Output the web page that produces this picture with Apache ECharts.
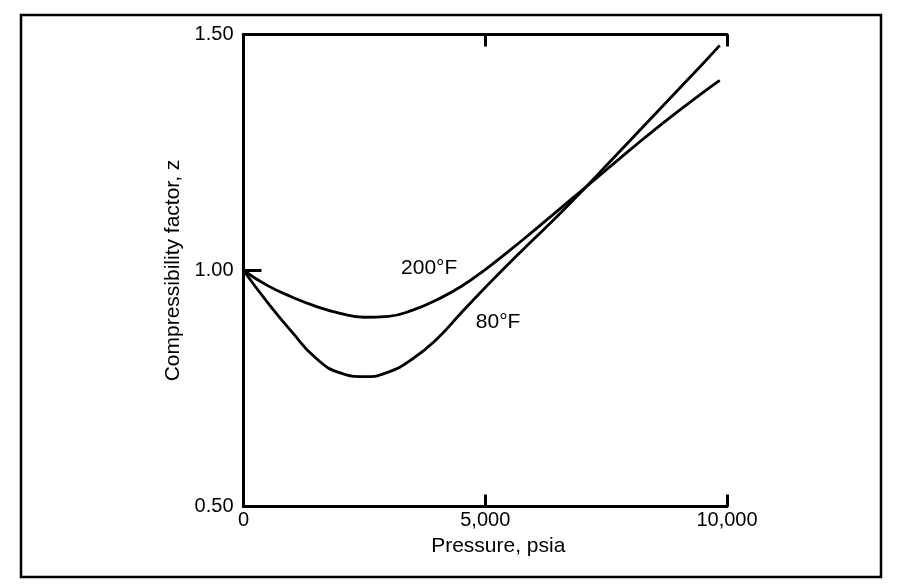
<!DOCTYPE html>
<html>
<head>
<meta charset="utf-8">
<script src="https://cdn.jsdelivr.net/npm/echarts@6/dist/echarts.min.js"></script>
<style>
html,body{margin:0;padding:0;background:#fff;}
#chart{width:899px;height:584px;}
</style>
</head>
<body>
<div id="chart"></div>
<script>
// Data (pressure in psia, compressibility factor z)
const pressure80 = [0, 500, 1000, 1500, 2000, 2500, 3000, 3500, 4000, 4500, 5000, 5500, 6000, 6500, 7000, 7500, 8000, 8500, 9000, 9500, 9850];
const z80 = [1.0, 0.932, 0.870, 0.814, 0.783, 0.775, 0.785, 0.813, 0.855, 0.910, 0.964, 1.016, 1.066, 1.116, 1.168, 1.222, 1.276, 1.330, 1.384, 1.438, 1.477];
const pressure200 = [0, 500, 1000, 1500, 2000, 2500, 3000, 3500, 4000, 4500, 5000, 5500, 6000, 6500, 7000, 7500, 8000, 8500, 9000, 9500, 9850];
const z200 = [1.0, 0.968, 0.944, 0.924, 0.909, 0.901, 0.903, 0.916, 0.938, 0.966, 1.002, 1.042, 1.084, 1.127, 1.170, 1.213, 1.256, 1.298, 1.338, 1.377, 1.403];
const xTickValues = [0, 5000, 10000];
const xTickLabels = ['0', '5,000', '10,000'];
const yTickValues = [0.5, 1.0, 1.5];
const yTickLabels = ['0.50', '1.00', '1.50'];
const curveLabels = [
  {name: '200°F', p: 3840, z: 1.004},
  {name: '80°F', p: 5265, z: 0.891}
];

const FONT = '"Liberation Sans", Arial, Helvetica, sans-serif';
const chart = echarts.init(document.getElementById('chart'), null, {renderer: 'canvas'});

function zip(xs, ys) { return xs.map((x, i) => [x, ys[i]]); }

const option = {
  backgroundColor: '#fff',
  animation: false,
  grid: {left: 243.5, right: 899 - 727, top: 34.5, bottom: 584 - 506.5, containLabel: false},
  xAxis: [{
    type: 'value', min: 0, max: 10000, interval: 5000, position: 'bottom',
    name: 'Pressure, psia', nameLocation: 'middle', nameGap: 29,
    nameTextStyle: {fontFamily: FONT, fontSize: 21, color: '#000', padding: [0, 0, 0, 26]},
    axisLine: {show: true, lineStyle: {color: '#000', width: 3}},
    axisTick: {show: true, inside: true, length: 12, lineStyle: {color: '#000', width: 3}},
    axisLabel: {show: true, margin: 4, fontFamily: FONT, fontSize: 20, color: '#000',
      formatter: v => xTickLabels[xTickValues.indexOf(v)] ?? ''},
    splitLine: {show: false}
  }, {
    type: 'value', min: 0, max: 10000, interval: 5000, position: 'top',
    axisLine: {show: true, lineStyle: {color: '#000', width: 3}},
    axisTick: {show: true, inside: true, length: 12, lineStyle: {color: '#000', width: 3}},
    axisLabel: {show: false}, splitLine: {show: false}
  }],
  yAxis: [{
    type: 'value', min: 0.5, max: 1.5, interval: 0.5, position: 'left',
    name: 'Compressibility factor, z', nameLocation: 'middle', nameGap: 21,
    nameTextStyle: {fontFamily: FONT, fontSize: 21, color: '#000'},
    axisLine: {show: true, lineStyle: {color: '#000', width: 3}},
    axisTick: {show: true, inside: true, length: 18, lineStyle: {color: '#000', width: 3}},
    axisLabel: {show: true, margin: 10, fontFamily: FONT, fontSize: 20, color: '#000',
      formatter: v => yTickLabels[yTickValues.findIndex(t => Math.abs(t - v) < 1e-9)] ?? ''},
    splitLine: {show: false}
  }, {
    type: 'value', min: 0.5, max: 1.5, interval: 0.5, position: 'right',
    axisLine: {show: true, lineStyle: {color: '#000', width: 3}},
    axisTick: {show: false}, axisLabel: {show: false}, splitLine: {show: false}
  }],
  graphic: [{
    type: 'rect', silent: true, z: -1,
    shape: {x: 21, y: 15, width: 860, height: 562},
    style: {fill: 'none', stroke: '#000', lineWidth: 2.5}
  }],
  series: [{
    name: '80°F', type: 'line', xAxisIndex: 0, yAxisIndex: 0,
    data: zip(pressure80, z80), smooth: 0.5, showSymbol: false,
    lineStyle: {color: '#000', width: 2.8}
  }, {
    name: '200°F', type: 'line', xAxisIndex: 0, yAxisIndex: 0,
    data: zip(pressure200, z200), smooth: 0.5, showSymbol: false,
    lineStyle: {color: '#000', width: 2.8}
  }, {
    name: 'labels', type: 'scatter', xAxisIndex: 0, yAxisIndex: 0,
    symbolSize: 0, itemStyle: {opacity: 1, color: '#000'},
    data: curveLabels.map(c => ({value: [c.p, c.z], name: c.name})),
    label: {show: true, position: 'inside', formatter: p => p.name, opacity: 1,
      fontFamily: FONT, fontSize: 21, color: '#000'}
  }]
};
chart.setOption(option);
</script>
</body>
</html>
